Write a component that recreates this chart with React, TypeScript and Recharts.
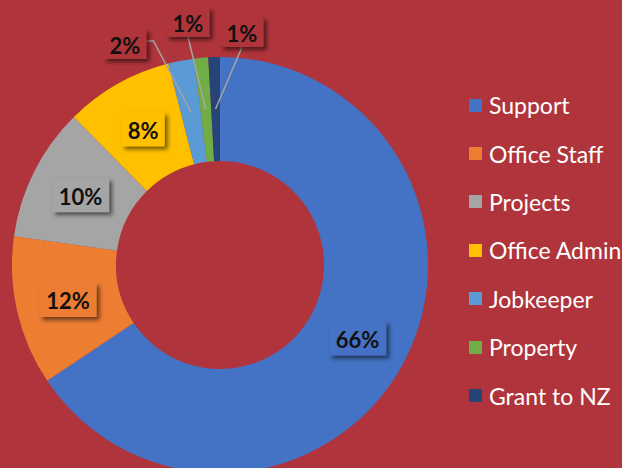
import React from "react";
import { PieChart, Pie, Cell, Legend } from "recharts";

const categories = [
  "Support",
  "Office Staff",
  "Projects",
  "Office Admin",
  "Jobkeeper",
  "Property",
  "Grant to NZ",
];
const shares = [65.6, 11.6, 10.4, 8.4, 2.0, 1.1, 0.9];
const sliceColors = [
  "#4472C4",
  "#ED7D31",
  "#A5A5A5",
  "#FFC000",
  "#5B9BD5",
  "#70AD47",
  "#264478",
];

const data = categories.map((name, i) => ({ name, value: shares[i] }));

const BG = "#B0343B";
const RAD = Math.PI / 180;

// small slices get their labels pulled out above the ring (offset from centre)
const callouts: Record<number, { dx: number; dy: number; elbow?: boolean }> = {
  4: { dx: -95, dy: -221, elbow: true },
  5: { dx: -32, dy: -243 },
  6: { dx: 22, dy: -233 },
};

const renderLabel = (props: any) => {
  const { cx, cy, midAngle, innerRadius, outerRadius, percent, index } = props;
  const text = `${Math.round(percent * 100)}%`;
  const r = (innerRadius + outerRadius) / 2;
  const px = cx + r * Math.cos(-midAngle * RAD);
  const py = cy + r * Math.sin(-midAngle * RAD);
  const out = callouts[index];
  const w = 15 + 14 * text.length;
  const h = out ? 30 : 34;
  const bx = out ? cx + out.dx : px;
  const by = out ? cy + out.dy : py;
  let line = null;
  if (out) {
    const pts = out.elbow
      ? `${bx + w / 2},${by - 3} ${bx + w / 2 + 7},${by - 3} ${px},${py}`
      : `${bx},${by + h / 2} ${px},${py}`;
    line = <polyline points={pts} fill="none" stroke="#A5A5A5" strokeWidth={1.5} />;
  }
  return (
    <g key={`lbl-${index}`}>
      {line}
      <rect
        x={bx - w / 2}
        y={by - h / 2}
        width={w}
        height={h}
        fill={out ? BG : sliceColors[index]}
        filter="url(#boxShadow)"
      />
      <text
        x={bx}
        y={by + 1}
        textAnchor="middle"
        dominantBaseline="central"
        fill="#111"
        fontFamily="Lato"
        fontWeight={700}
        fontSize={22}
      >
        {text}
      </text>
    </g>
  );
};

const renderLegend = () => (
  <div style={{ fontFamily: "Lato", fontSize: 23, color: "#fff" }}>
    {categories.map((c, i) => (
      <div key={c} style={{ height: 48.4, display: "flex", alignItems: "center" }}>
        <span
          style={{
            width: 13,
            height: 13,
            background: sliceColors[i],
            marginRight: 7,
            display: "inline-block",
            flexShrink: 0,
          }}
        />
        <span style={{ whiteSpace: "nowrap" }}>{c}</span>
      </div>
    ))}
  </div>
);

export default function App() {
  return (
    <div
      style={{
        position: "absolute",
        left: 0,
        top: 0,
        width: 622,
        height: 468,
        background: BG,
        overflow: "hidden",
      }}
    >
      <PieChart width={622} height={468} margin={{ top: 0, right: 0, bottom: 0, left: 0 }}>
        <defs>
          <filter id="boxShadow" x="-30%" y="-30%" width="160%" height="170%">
            <feDropShadow dx="3" dy="3" stdDeviation="2" floodColor="#000" floodOpacity="0.55" />
          </filter>
        </defs>
        <Pie
          data={data}
          dataKey="value"
          nameKey="name"
          cx={220}
          cy={265}
          innerRadius={104}
          outerRadius={208}
          startAngle={90}
          endAngle={-270}
          stroke="none"
          label={renderLabel}
          labelLine={false}
          isAnimationActive={false}
        >
          {data.map((d, i) => (
            <Cell key={d.name} fill={sliceColors[i]} />
          ))}
        </Pie>
        <Legend
          layout="vertical"
          align="right"
          verticalAlign="top"
          content={renderLegend}
          wrapperStyle={{ position: "absolute", left: 469, top: 81, width: 170 }}
        />
      </PieChart>
    </div>
  );
}
